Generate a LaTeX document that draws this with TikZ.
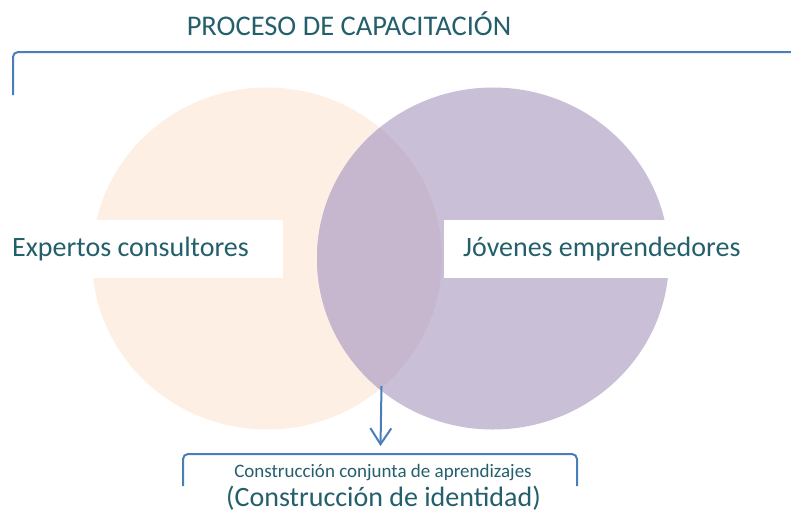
\documentclass[tikz,border=0pt]{standalone}
\usepackage{fontspec}
\setmainfont{Carlito}
\usetikzlibrary{arrows.meta}
\definecolor{txt}{HTML}{245F6C}
\definecolor{peach}{HTML}{FDEFE3}
\definecolor{lilac}{HTML}{C9BFD7}
\definecolor{overlapc}{HTML}{C6B7CE}
\definecolor{lineblue}{HTML}{4A7EBB}
\begin{document}
\begin{tikzpicture}[x=1pt,y=-1pt,
  lbl/.style={text=txt, inner sep=0pt},
  bracketline/.style={draw=lineblue, line width=2pt, rounded corners=5pt},
  linkarrow/.style={draw=lineblue, line width=2pt, -{Straight Barb[length=16pt,width=21pt,line width=2pt]}}]
\useasboundingbox (0,0) rectangle (791,512);
% circles
\fill[peach] (267,258.5) ellipse [x radius=175, y radius=171];
\fill[lilac] (493,258.5) ellipse [x radius=176, y radius=171];
\begin{scope}
  \clip (267,258.5) ellipse [x radius=175, y radius=171];
  \fill[overlapc] (493,258.5) ellipse [x radius=176, y radius=171];
\end{scope}
% white label backgrounds
\fill[white] (0,220) rectangle (283,278);
\fill[white] (444,220) rectangle (760,278);
% texts
\node[lbl, font=\fontsize{28.5}{34}\selectfont, anchor=base] (title) at (349,35) {PROCESO DE CAPACITACIÓN};
\node[lbl, font=\fontsize{28}{34}\selectfont, anchor=base west] (expertos) at (12,256) {Expertos consultores};
\node[lbl, font=\fontsize{28}{34}\selectfont, anchor=base west] (jovenes) at (463,256) {Jóvenes emprendedores};
\node[lbl, font=\fontsize{19}{23}\selectfont, anchor=base] (conjunta) at (383,477) {Construcción conjunta de aprendizajes};
\node[lbl, font=\fontsize{28}{33}\selectfont, anchor=base] (identidad) at (383.5,506) {(Construcción de identidad)};
% top bracket
\coordinate (tbA) at (13,95);
\coordinate (tbB) at (13,52);
\coordinate (tbC) at (791,52);
\draw[bracketline] (tbA) -- (tbB) -- (tbC);
% bottom bracket
\coordinate (bbA) at (183,486);
\coordinate (bbB) at (183,454);
\coordinate (bbC) at (577,454);
\coordinate (bbD) at (577,486);
\draw[bracketline] (bbA) -- (bbB) -- (bbC) -- (bbD);
% arrow
\coordinate (meet) at (381.5,386);
\coordinate (target) at (380.5,446);
\draw[linkarrow] (meet) -- (target);
\end{tikzpicture}
\end{document}
